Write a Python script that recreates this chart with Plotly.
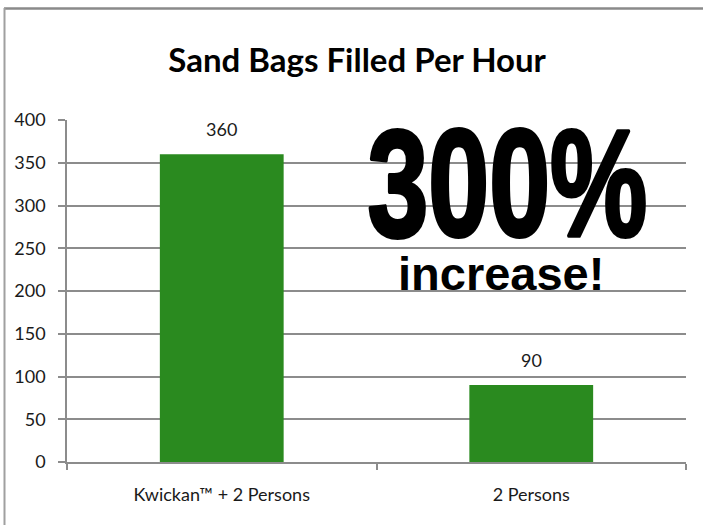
import plotly.graph_objects as go

categories = ["Kwickan™ + 2 Persons", "2 Persons"]
values = [360, 90]
y_ticks = [0, 50, 100, 150, 200, 250, 300, 350, 400]
title_text = "Sand Bags Filled Per Hour"
big_text = "300%"
sub_text = "increase!"

W, H = 703, 525
L, R, T, B = 67, 17, 120, 63
pw, ph = W - L - R, H - T - B

def px(x):
    return (x - L) / pw

def py(y):
    return (H - B - y) / ph

sans = "Lato, Carlito, Calibri, sans-serif"
grid = "#8c8c8c"
ink = "#1a1a1a"

fig = go.Figure(go.Bar(
    x=categories, y=values,
    marker=dict(color="#2a8a1f", line=dict(width=0)),
    hoverinfo="x+y",
))

fig.update_layout(
    width=W, height=H,
    margin=dict(l=L, r=R, t=T, b=B),
    paper_bgcolor="white", plot_bgcolor="white",
    bargap=0.6,
    showlegend=False,
    title=dict(text="<b>%s</b>" % title_text, x=0.508, xanchor="center",
               y=1 - 60 / H, yanchor="middle",
               font=dict(family=sans, size=33, color="black")),
    xaxis=dict(showline=True, linecolor=grid, linewidth=1.5,
               ticks="outside", tickson="boundaries", ticklen=6,
               tickcolor=grid, tickwidth=1.5, ticklabelstandoff=16,
               tickfont=dict(family=sans, size=18, color=ink),
               showgrid=False),
    yaxis=dict(range=[0, 400], tickvals=y_ticks, showline=True,
               linecolor=grid, linewidth=1.5, ticks="outside", ticklen=7,
               tickcolor=grid, tickwidth=1.5, showgrid=True,
               gridcolor=grid, gridwidth=1.5, zeroline=False,
               ticklabelstandoff=9,
               tickfont=dict(family=sans, size=18, color=ink)),
)

# value labels above bars
for c, v in zip(categories, values):
    fig.add_annotation(x=c, y=v, text=str(v), showarrow=False,
                       xanchor="center", yanchor="bottom", yshift=12,
                       font=dict(family=sans, size=18, color=ink))

fig.add_annotation(text="<b>%s</b>" % big_text, xref="paper", yref="paper",
                   x=px(507), y=py(183), xanchor="center", yanchor="middle",
                   showarrow=False,
                   font=dict(family="Liberation Sans, Arial, sans-serif",
                             size=152, color="black"))
fig.add_annotation(text="<b>%s</b>" % sub_text, xref="paper", yref="paper",
                   x=px(501), y=py(273), xanchor="center", yanchor="middle",
                   showarrow=False,
                   font=dict(family="Liberation Sans, Arial, sans-serif",
                             size=47, color="black"))

# outer frame (top and left edges)
fig.add_shape(type="line", xref="paper", yref="paper",
              x0=px(4), x1=px(703), y0=py(8.5), y1=py(8.5),
              line=dict(color="#8a8a8a", width=2.5))
fig.add_shape(type="line", xref="paper", yref="paper",
              x0=px(4.5), x1=px(4.5), y0=py(8), y1=py(525),
              line=dict(color="#a0a0a0", width=2))

post = """
document.body.style.margin = '0';
var gd = document.getElementById('{plot_id}');
gd.querySelectorAll('.annotation-text').forEach(function (el) {
  if (el.textContent === '300%') {
    var bb = el.getBBox();
    var cx = bb.x + bb.width / 2;
    var t = el.getAttribute('transform') || '';
    el.setAttribute('transform', t + ' translate(' + cx + ',0) scale(0.72,1) translate(' + (-cx) + ',0)');
    el.style.stroke = 'black';
    el.style.strokeWidth = '4px';
    el.style.strokeLinejoin = 'round';
  }
});
"""

fig.write_html("out.html", post_script=post, config={"displayModeBar": False})
